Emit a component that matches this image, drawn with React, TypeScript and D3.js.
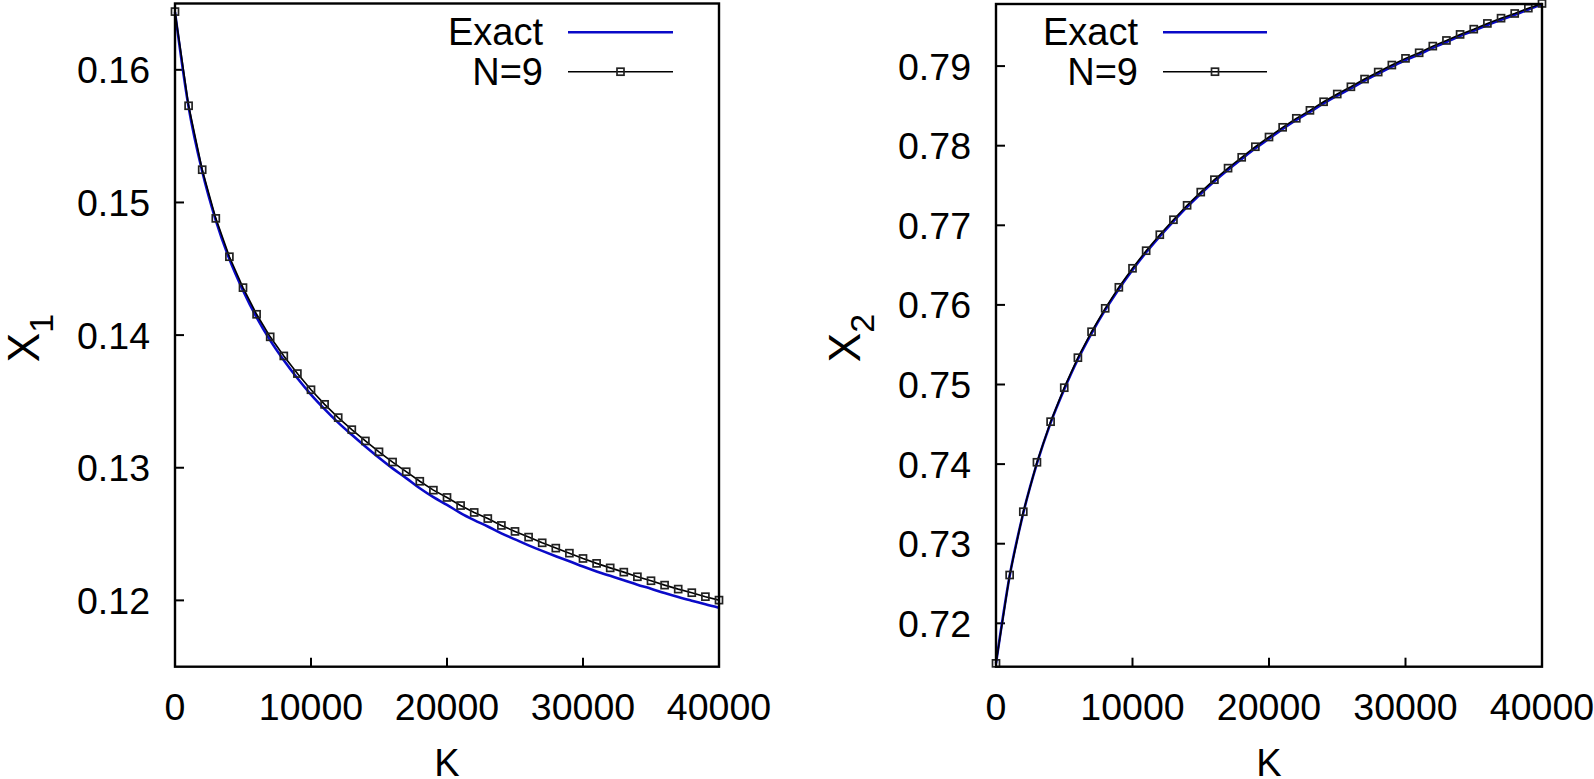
import React from 'react';
import * as d3 from 'd3';

// K values (every 1000 from 0 to 40000)
const kValues = [
  0, 1000, 2000, 3000, 4000, 5000, 6000, 7000, 8000, 9000, 10000,
  11000, 12000, 13000, 14000, 15000, 16000, 17000, 18000, 19000, 20000,
  21000, 22000, 23000, 24000, 25000, 26000, 27000, 28000, 29000, 30000,
  31000, 32000, 33000, 34000, 35000, 36000, 37000, 38000, 39000, 40000,
];

// X1: N=9 approximation
const x1N9 = [
  0.16439, 0.15729, 0.15247, 0.1488, 0.14591, 0.14358, 0.14157, 0.13987, 0.13843, 0.1371, 0.13588,
  0.13478, 0.13378, 0.13287, 0.13202, 0.1312, 0.13043, 0.1297, 0.12898, 0.12831, 0.12776,
  0.12715, 0.12663, 0.12617, 0.12565, 0.1252, 0.12477, 0.12434, 0.12394, 0.12356, 0.12316,
  0.12279, 0.12245, 0.12213, 0.12178, 0.12148, 0.12115, 0.12085, 0.12058, 0.12028, 0.12002,
];

// X1: Exact
const x1Exact = [
  0.16435, 0.1572, 0.15235, 0.14865, 0.14573, 0.14337, 0.14133, 0.1396, 0.1381, 0.13675, 0.13552,
  0.13442, 0.1334, 0.13248, 0.1316, 0.13075, 0.12995, 0.12922, 0.12845, 0.12778, 0.1272,
  0.12658, 0.12605, 0.12557, 0.12505, 0.1246, 0.12415, 0.12373, 0.12333, 0.12295, 0.12255,
  0.12218, 0.12185, 0.12152, 0.12118, 0.12088, 0.12055, 0.12025, 0.11998, 0.1197, 0.11944,
];

// X2: N=9 approximation
const x2N9 = [
  0.71497, 0.72607, 0.73402, 0.74023, 0.74533, 0.7496, 0.75337, 0.75663, 0.75957, 0.76221, 0.7646,
  0.76681, 0.76882, 0.7707, 0.77251, 0.77417, 0.77573, 0.77718, 0.77854, 0.77987, 0.78109,
  0.78231, 0.78344, 0.78444, 0.78552, 0.78649, 0.7874, 0.78837, 0.78925, 0.79013, 0.79097,
  0.79167, 0.79251, 0.79322, 0.79398, 0.79464, 0.79536, 0.79602, 0.79661, 0.79728, 0.79787,
];

// X2: Exact
const x2Exact = [
  0.71497, 0.72595, 0.73386, 0.74008, 0.74518, 0.7494, 0.75317, 0.75643, 0.75937, 0.76201, 0.7644,
  0.76661, 0.76862, 0.7705, 0.77231, 0.77397, 0.77553, 0.77698, 0.77834, 0.77967, 0.78089,
  0.78211, 0.78324, 0.78424, 0.78532, 0.78629, 0.7872, 0.78817, 0.78905, 0.78993, 0.79077,
  0.79147, 0.79231, 0.79302, 0.79378, 0.79444, 0.79516, 0.79582, 0.79643, 0.79712, 0.79775,
];

const xTicks = [0, 10000, 20000, 30000, 40000];
const y1Ticks = [0.12, 0.13, 0.14, 0.15, 0.16];
const y2Ticks = [0.72, 0.73, 0.74, 0.75, 0.76, 0.77, 0.78, 0.79];
const legendLabels = ['Exact', 'N=9'];

const FONT = '"Liberation Sans", Arial, Helvetica, sans-serif';
const BLUE = '#0a0ac8';

type PanelProps = {
  left: number;
  right: number;
  top: number;
  bottom: number;
  yDomain: [number, number];
  yTicks: number[];
  exact: number[];
  approx: number[];
  sub: string;
  legendTextX: number;
  legendLine: [number, number];
};

function Panel(p: PanelProps) {
  const x = d3.scaleLinear().domain([0, 40000]).range([p.left, p.right]);
  const y = d3.scaleLinear().domain(p.yDomain).range([p.bottom, p.top]);
  const exactPts: [number, number][] = kValues.map((k, i) => [k, p.exact[i]]);
  const approxPts: [number, number][] = kValues.map((k, i) => [k, p.approx[i]]);
  const smooth = d3
    .line<[number, number]>()
    .x((d) => x(d[0]))
    .y((d) => y(d[1]))
    .curve(d3.curveMonotoneX);
  const straight = d3
    .line<[number, number]>()
    .x((d) => x(d[0]))
    .y((d) => y(d[1]));
  const ms = 7;
  const tickLen = 9;
  const midX = (p.left + p.right) / 2;
  const midY = 338;
  const labelX = p.left - 160;
  const legendRowsY = [32.3, 71.7];
  return (
    <g>
      {/* y ticks */}
      {p.yTicks.map((t) => (
        <g key={'y' + t}>
          <line x1={p.left} x2={p.left + tickLen} y1={y(t)} y2={y(t)} stroke="#000" strokeWidth={2} />
          <text
            x={p.left - 25}
            y={y(t)}
            dy="0.36em"
            textAnchor="end"
            fontFamily={FONT}
            fontSize={37.5}
            fill="#000"
          >
            {t.toFixed(2)}
          </text>
        </g>
      ))}
      {/* x ticks */}
      {xTicks.map((t) => (
        <g key={'x' + t}>
          <line x1={x(t)} x2={x(t)} y1={p.bottom} y2={p.bottom - tickLen} stroke="#000" strokeWidth={2} />
          <text x={x(t)} y={720} textAnchor="middle" fontFamily={FONT} fontSize={37.5} fill="#000">
            {t}
          </text>
        </g>
      ))}
      {/* axis labels */}
      <text x={midX} y={776} textAnchor="middle" fontFamily={FONT} fontSize={38} fill="#000">
        K
      </text>
      <text
        transform={`translate(${labelX + 24},${midY}) rotate(-90)`}
        textAnchor="middle"
        fontFamily={FONT}
        fontSize={44}
        fill="#000"
      >
        X
        <tspan fontSize={34} dy={14}>
          {p.sub}
        </tspan>
      </text>
      {/* curves */}
      <path d={smooth(exactPts) || ''} fill="none" stroke={BLUE} strokeWidth={2.6} />
      <path d={straight(approxPts) || ''} fill="none" stroke="#000" strokeWidth={1.6} />
      {approxPts.map((d, i) => (
        <rect
          key={'m' + i}
          x={x(d[0]) - ms / 2}
          y={y(d[1]) - ms / 2}
          width={ms}
          height={ms}
          fill="none"
          stroke="#222"
          strokeWidth={1.7}
        />
      ))}
      {/* legend */}
      {legendLabels.map((lab, i) => (
        <text
          key={'lt' + i}
          x={p.legendTextX}
          y={legendRowsY[i] + 13}
          textAnchor="end"
          fontFamily={FONT}
          fontSize={38}
          fill="#000"
        >
          {lab}
        </text>
      ))}
      <line x1={p.legendLine[0]} x2={p.legendLine[1]} y1={legendRowsY[0]} y2={legendRowsY[0]} stroke={BLUE} strokeWidth={2.6} />
      <line x1={p.legendLine[0]} x2={p.legendLine[1]} y1={legendRowsY[1]} y2={legendRowsY[1]} stroke="#000" strokeWidth={1.6} />
      <rect
        x={(p.legendLine[0] + p.legendLine[1]) / 2 - ms / 2}
        y={legendRowsY[1] - ms / 2}
        width={ms}
        height={ms}
        fill="none"
        stroke="#222"
        strokeWidth={1.7}
      />
      {/* frame */}
      <rect
        x={p.left}
        y={p.top}
        width={p.right - p.left}
        height={p.bottom - p.top}
        fill="none"
        stroke="#000"
        strokeWidth={2.4}
      />
    </g>
  );
}

export default function App() {
  return (
    <svg
      width={1594}
      height={779}
      viewBox="0 0 1594 779"
      style={{ position: 'absolute', left: 0, top: 0, background: '#fff' }}
    >
      <rect x={0} y={0} width={1594} height={779} fill="#fff" />
      <Panel
        left={175}
        right={719}
        top={3.5}
        bottom={666.7}
        yDomain={[0.115, 0.165]}
        yTicks={y1Ticks}
        exact={x1Exact}
        approx={x1N9}
        sub="1"
        legendTextX={543}
        legendLine={[568, 673]}
      />
      <Panel
        left={996}
        right={1542}
        top={4}
        bottom={666.7}
        yDomain={[0.71455, 0.7978]}
        yTicks={y2Ticks}
        exact={x2Exact}
        approx={x2N9}
        sub="2"
        legendTextX={1138}
        legendLine={[1163, 1267]}
      />
    </svg>
  );
}
